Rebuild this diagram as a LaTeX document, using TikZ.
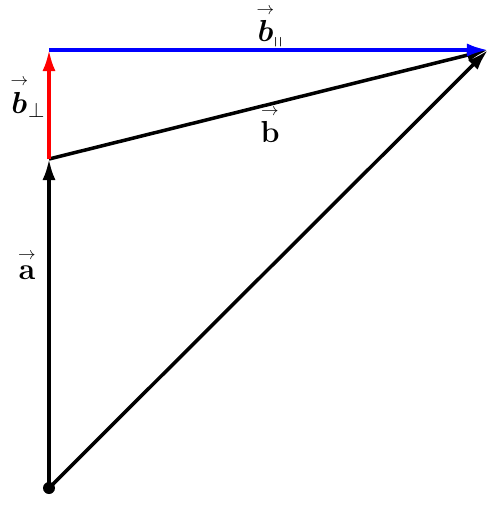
\documentclass[tikz,border=0pt]{standalone}
\usepackage{amsmath,amssymb,bm}
\usetikzlibrary{arrows.meta}
\newcommand{\arr}[1]{\overset{\scriptscriptstyle\rightarrow}{#1}}
\tikzset{
  vec/.style={line width=2pt,-{Latex[length=12pt,width=7.5pt]}},
  lbl/.style={font=\LARGE,inner sep=1pt}
}
\begin{document}
\begin{tikzpicture}[x=0.02cm,y=-0.02cm]
        \useasboundingbox (0,0) rectangle (502,508);
        % Points
        \coordinate (O) at (49,488);
        \coordinate (A) at (49,159);
        \coordinate (P) at (49,50);
        \coordinate (T) at (488,50);
        % Vectors
        \draw[vec] (O) -- (A);
        \draw[vec] (O) -- (T);
        \draw[vec] (A) -- (T);
        \draw[vec,red] (A) -- (P);
        \draw[vec,blue] (P) -- (T);
        \fill (O) circle (6);
        % Labels
        \node[lbl] (la) at (27,265) {$\arr{\mathbf{a}}$};
        \node[lbl] (lb) at (270,124) {$\arr{\mathbf{b}}$};
        \node[lbl] (lperp) at (28,97) {$\arr{\bm{b}}_{\perp}$};
        \node[lbl] (lpar) at (270,26.5) {$\arr{\bm{b}}_{\shortparallel}$};
    \end{tikzpicture}
\end{document}
